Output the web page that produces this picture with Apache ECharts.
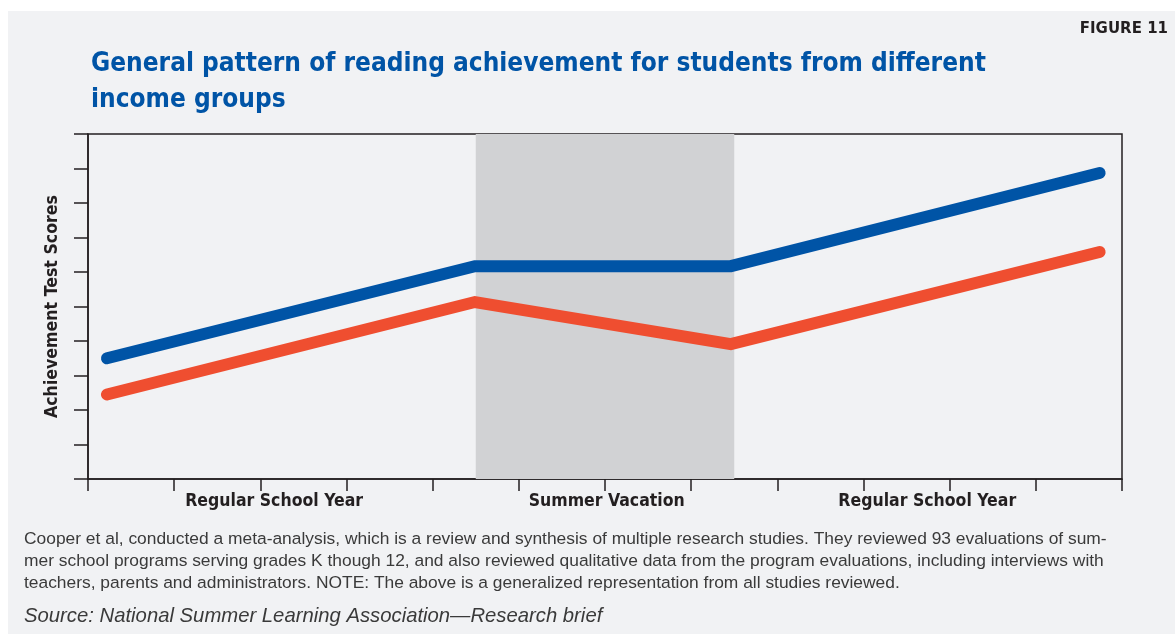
<!DOCTYPE html>
<html>
<head>
<meta charset="utf-8">
<script src="https://cdn.jsdelivr.net/npm/echarts@6/dist/echarts.min.js"></script>
<style>
  html, body { margin: 0; padding: 0; background: #ffffff; }
  #panel { position: absolute; left: 8px; top: 11px; right: 0; bottom: 0; background: #f1f2f4; }
  #chart { position: absolute; left: 0; top: 0; width: 1175px; height: 634px; }
</style>
</head>
<body>
<div id="panel"></div>
<div id="chart"></div>
<script>
// x positions along the year (0..12 tick units)
const pointX = [0.22, 4.49, 7.46, 11.74];
// achievement scores (0..10 tick units)
const highIncome = [3.5, 6.17, 6.17, 8.87];
const lowIncome = [2.45, 5.13, 3.91, 6.58];

const periodLabels = ["Regular School Year", "Summer Vacation", "Regular School Year"];
const periodLabelX = [2.16, 6.02, 9.74];
const summerBand = [4.5, 7.5];

const ink = "#231f20";
const condensed = "'DejaVu Sans Condensed', sans-serif";

const toPairs = (xs, ys) => xs.map((x, i) => [x, ys[i]]);

const chart = echarts.init(document.getElementById("chart"), null, { renderer: "canvas" });

chart.setOption({
  animation: false,
  backgroundColor: "transparent",
  title: [
    {
      text: "General pattern of reading achievement for students from different\nincome groups",
      left: 91,
      top: 46,
      padding: 0,
      textStyle: {
        fontFamily: condensed,
        fontWeight: "bold",
        fontSize: 26,
        lineHeight: 36,
        color: "#0054a6",
      },
    },
    {
      text: "FIGURE 11",
      right: 7,
      top: 22,
      padding: 0,
      textStyle: { fontFamily: "'DejaVu Sans'", fontWeight: "bold", fontSize: 15, color: ink },
    },
    {
      text:
        "Cooper et al, conducted a meta-analysis, which is a review and synthesis of multiple research studies. They reviewed 93 evaluations of sum-\n" +
        "mer school programs serving grades K though 12, and also reviewed qualitative data from the program evaluations, including interviews with\n" +
        "teachers, parents and administrators. NOTE: The above is a generalized representation from all studies reviewed.",
      left: 24,
      top: 528,
      padding: 0,
      textStyle: {
        fontFamily: "'Liberation Sans', sans-serif",
        fontWeight: "normal",
        fontSize: 17.4,
        lineHeight: 22,
        color: "#3a3a3a",
      },
    },
    {
      text: "Source: National Summer Learning Association\u2014Research brief",
      left: 24,
      top: 606,
      padding: 0,
      textStyle: {
        fontFamily: "'Liberation Sans', sans-serif",
        fontStyle: "italic",
        fontWeight: "normal",
        fontSize: 20.3,
        color: "#3a3a3a",
      },
    },
  ],
  grid: {
    left: 88,
    right: 53,
    top: 134,
    bottom: 155,
    show: true,
    borderColor: ink,
    borderWidth: 1.5,
    backgroundColor: "transparent",
  },
  xAxis: {
    type: "value",
    min: 0,
    max: 12,
    interval: 1,
    axisLine: { show: true, lineStyle: { color: ink, width: 1.5 } },
    axisTick: { show: true, length: 12, lineStyle: { color: ink, width: 1.5 } },
    splitLine: { show: false },
    axisLabel: {
      customValues: periodLabelX,
      margin: 13,
      fontFamily: condensed,
      fontWeight: "bold",
      fontSize: 17.5,
      color: ink,
      formatter: (value) => {
        let best = 0;
        periodLabelX.forEach((x, i) => {
          if (Math.abs(x - value) < Math.abs(periodLabelX[best] - value)) best = i;
        });
        return periodLabels[best];
      },
    },
  },
  yAxis: {
    type: "value",
    min: 0,
    max: 10,
    interval: 1,
    name: "Achievement Test Scores",
    nameLocation: "middle",
    nameRotate: 90,
    nameGap: 27,
    nameTextStyle: { fontFamily: condensed, fontWeight: "bold", fontSize: 17.6, color: ink },
    axisLine: { show: true, lineStyle: { color: ink, width: 1.5 } },
    axisTick: { show: true, length: 14, lineStyle: { color: ink, width: 1.5 } },
    axisLabel: { show: false },
    splitLine: { show: false },
  },
  series: [
    {
      type: "line",
      data: [],
      z: 1,
      silent: true,
      markArea: {
        silent: true,
        itemStyle: { color: "#d1d2d4" },
        data: [[{ xAxis: summerBand[0] }, { xAxis: summerBand[1] }]],
      },
    },
    {
      name: "Higher income",
      type: "line",
      z: 3,
      data: toPairs(pointX, highIncome),
      showSymbol: false,
      lineStyle: { color: "#0054a6", width: 12, cap: "round", join: "miter" },
    },
    {
      name: "Lower income",
      type: "line",
      z: 3,
      data: toPairs(pointX, lowIncome),
      showSymbol: false,
      lineStyle: { color: "#ef4e30", width: 12, cap: "round", join: "miter" },
    },
  ],
});
</script>
</body>
</html>
